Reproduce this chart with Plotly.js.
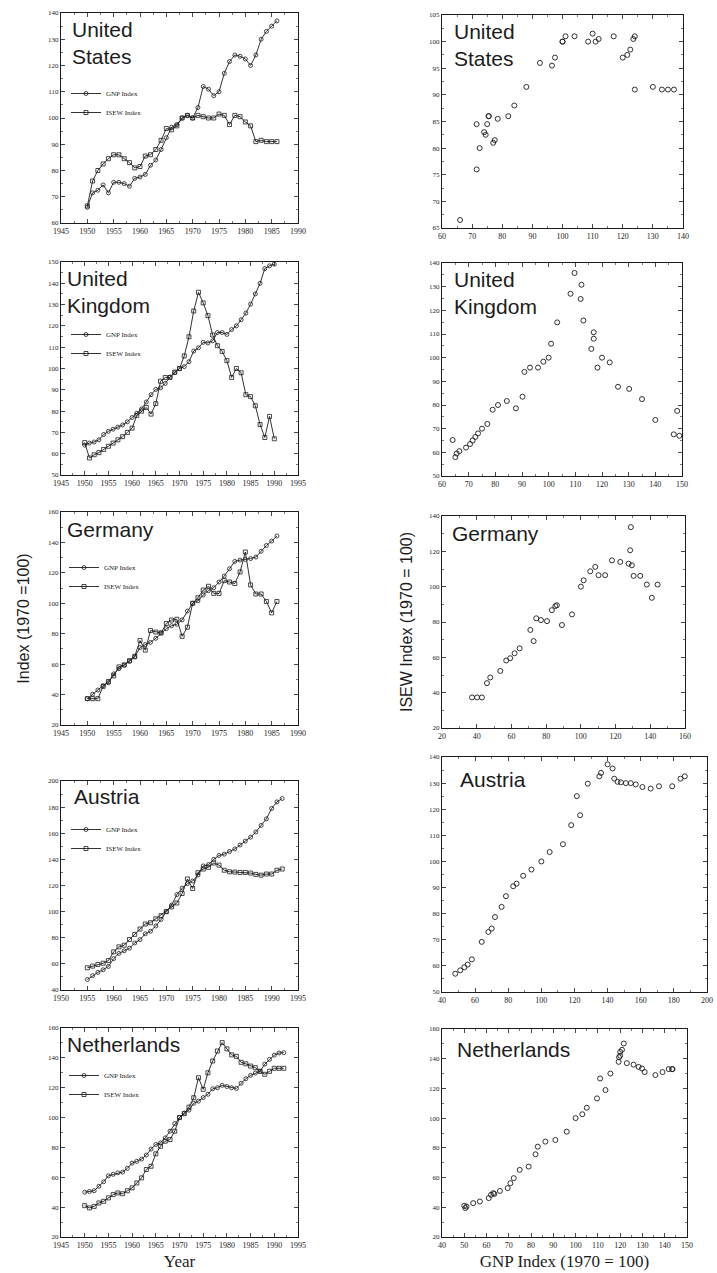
<!DOCTYPE html>
<html>
<head>
<meta charset="utf-8">
<script src="https://cdn.plot.ly/plotly-3.0.1.min.js"></script>
<style>html,body{margin:0;padding:0;background:#fff;}#chart{width:717px;height:1273px;}</style>
</head>
<body>
<div id="chart"></div>
<script>
// ---------------- DATA ----------------
const usYears = [1950,1951,1952,1953,1954,1955,1956,1957,1958,1959,1960,1961,1962,1963,1964,1965,1966,1967,1968,1969,1970,1971,1972,1973,1974,1975,1976,1977,1978,1979,1980,1981,1982,1983,1984,1985,1986];
const usGNP  = [66,71.5,72.5,74.5,71.5,75.5,75.5,75,74,77,77.5,78.5,82,84,88,92.5,96.5,97.5,100,101,100,104,112,111,108.5,110,117,121.5,124,123.5,122.5,120,124,130,133,135,137];
const usISEW = [66.5,76,80,82.5,84.5,86,86,84.5,83,81,81.5,85.5,86,88,91.5,96,95.5,97,100,101,100,101,100.5,100,100,101.5,101,97.5,101,100.5,98.5,97,91,91.5,91,91,91];

const ukYears = [1950,1951,1952,1953,1954,1955,1956,1957,1958,1959,1960,1961,1962,1963,1964,1965,1966,1967,1968,1969,1970,1971,1972,1973,1974,1975,1976,1977,1978,1979,1980,1981,1982,1983,1984,1985,1986,1987,1988,1989,1990];
const ukGNP  = [64,65,65.5,66.5,69,70.5,71.5,72.5,73.5,75,77,79,81,84.3,87.7,90.2,90.9,93,96,98,100,100.9,103.2,108.2,109.7,112.3,112,113,116.9,116.9,116,118.3,120,122.9,126,130.2,135,140,146.9,148.2,149];
const ukISEW = [65.2,58,59.5,60.5,62,63.5,65,66.5,68,70,72,78,80,81.7,78.6,83.5,94,95.8,95.8,98.3,100,105.9,114.9,127,135.8,130.8,124.8,115.7,110.7,108,103.7,95.8,100,98,87.7,86.8,82.5,73.7,67.6,77.5,67];

const deYears = [1950,1951,1952,1953,1954,1955,1956,1957,1958,1959,1960,1961,1962,1963,1964,1965,1966,1967,1968,1969,1970,1971,1972,1973,1974,1975,1976,1977,1978,1979,1980,1981,1982,1983,1984,1985,1986];
const deGNP  = [37.3,40.2,43,45.9,47.8,53.6,57,59.3,61.8,64.7,70.9,72.8,74.3,77,80.5,83.3,85.3,86.2,89.1,94.9,100,101.6,105.4,108.3,110.2,114,117.9,122.7,127.5,128.4,128.8,129.4,130.4,134.2,138,140.9,144.2];
const deISEW = [37.3,37.3,37.3,45.4,48.6,52.3,58.2,59.5,62.3,65.1,75.5,69.2,82.1,81.1,80.5,86.7,89,89.5,78.3,84.3,100,103.6,108.7,111.2,106.5,106.5,114.9,114,113,120.6,133.7,112.1,106.1,106.1,101.2,93.7,101.2];

const atYears = [1955,1956,1957,1958,1959,1960,1961,1962,1963,1964,1965,1966,1967,1968,1969,1970,1971,1972,1973,1974,1975,1976,1977,1978,1979,1980,1981,1982,1983,1984,1985,1986,1987,1988,1989,1990,1991,1992];
const atGNP  = [48,51,53.5,55.5,58,64,68,70,72,76,78.6,83,85,89,94,100,105,113,118,121.4,123.4,128,135,136,140,143,144,146,148,151,154,157,161,166,171,179,184,186.6];
const atISEW = [57,58.3,59.5,60.5,62.5,69.2,73,74.3,78.7,82.6,86.7,90.5,91.5,94.5,96.9,100,103.6,106.6,113.9,125,117.7,129.8,132.6,133.9,137.2,135.6,131.7,130.5,130.3,130,130,129.5,128.5,127.9,128.8,128.8,131.7,132.6];

const nlYears = [1950,1951,1952,1953,1954,1955,1956,1957,1958,1959,1960,1961,1962,1963,1964,1965,1966,1967,1968,1969,1970,1971,1972,1973,1974,1975,1976,1977,1978,1979,1980,1981,1982,1983,1984,1985,1986,1987,1988,1989,1990,1991,1992];
const nlGNP  = [50,50.5,51,54,57,61,62,63,63.5,66,69.5,70.7,72.2,74.9,78.9,82,83,86.4,90.9,96,100,103,105,109.6,111,113.4,115.6,119.3,120,121.6,120.8,120,119.5,123,126,128.3,129.8,131,135.8,139,141.8,143.3,143.5];
const nlISEW = [41,39.5,40.5,42.8,43.9,46.2,48.4,49.5,49,51,52.9,56.2,59.6,65.2,67.4,75.7,80.8,84.2,85.3,90.9,100,102.6,107,113.3,126.7,118.9,130,137.9,144.6,150.2,146,142,141,137,136,134.5,133.4,131,129,131,133,133,133];

const countries = [
  {name:'United<br>States',  years:usYears, gnp:usGNP, isew:usISEW},
  {name:'United<br>Kingdom', years:ukYears, gnp:ukGNP, isew:ukISEW},
  {name:'Germany',           years:deYears, gnp:deGNP, isew:deISEW},
  {name:'Austria',           years:atYears, gnp:atGNP, isew:atISEW},
  {name:'Netherlands',       years:nlYears, gnp:nlGNP, isew:nlISEW}
];

// axis ranges and tick steps
const leftXRange  = [[1945,1990],[1945,1995],[1945,1990],[1950,1995],[1945,1995]];
const leftYRange  = [[60,140],[50,150],[20,160],[40,200],[20,160]];
const leftYStep   = [10,10,20,20,20];
const rightXRange = [[60,140],[60,150],[20,160],[40,200],[40,150]];
const rightXStep  = [10,10,20,20,10];
const rightYRange = [[65,105],[50,140],[20,140],[50,140],[20,160]];
const rightYStep  = [5,10,20,10,20];

// ---------------- LAYOUT (pixel boxes) ----------------
const W = 717, H = 1273;
const leftBoxes  = [[61,298,13,223],[61,298,262,475],[61,298,512,725],[61,298,781,990],[61,298,1028,1237]];
const rightBoxes = [[442,683,15,228],[442,682,263,476],[442,685,516,728],[442,707,757,992],[442,687,1029,1237]];
const leftTitlePos  = [[70,23],[65,272],[65,523],[72,790],[65,1038]];
const rightTitlePos = [[452,25],[452,273],[450,527],[458,773],[455,1043]];
const legendTop  = [79,320,553,815,1061];
const legendLeft = [66,66,64,66,64];

const ink = '#1c1c1c';
const tickFontX = {family:'Liberation Serif', size:8, color:ink};
const tickFontY = {family:'Liberation Serif', size:7, color:ink};

function dom(b){ return {x:[b[0]/W, b[1]/W], y:[1-b[3]/H, 1-b[2]/H]}; }
function axis(domain, range, step, anchor, font){
  return {domain:domain, range:range, dtick:step, tick0:range[0], anchor:anchor,
    showline:true, linecolor:ink, linewidth:1, mirror:'ticks', ticks:'inside',
    ticklen:4, tickwidth:0.8, tickcolor:ink, showgrid:false, zeroline:false,
    tickfont:font, tickangle:0, fixedrange:true,
    minor:{ticks:'inside', ticklen:2, tickwidth:0.6, tickcolor:ink, dtick:step/2, showgrid:false}};
}

const data = [];
const layout = {width:W, height:H, margin:{l:0,r:0,t:0,b:0}, paper_bgcolor:'#fff', plot_bgcolor:'#fff',
  showlegend:true, annotations:[], font:{family:'Liberation Sans', color:ink}};

countries.forEach((c,i)=>{
  const li = 2*i+1, ri = 2*i+2;
  const lx = 'x'+(li===1?'':li), ly = 'y'+(li===1?'':li);
  const rx = 'x'+ri, ry = 'y'+ri;
  const lg = i===0 ? 'legend' : 'legend'+(i+1);
  const ld = dom(leftBoxes[i]), rd = dom(rightBoxes[i]);
  layout['xaxis'+(li===1?'':li)] = axis(ld.x, leftXRange[i], 5, ly, tickFontX);
  layout['yaxis'+(li===1?'':li)] = axis(ld.y, leftYRange[i], leftYStep[i], lx, tickFontY);
  layout['xaxis'+ri] = axis(rd.x, rightXRange[i], rightXStep[i], ry, tickFontX);
  layout['yaxis'+ri] = axis(rd.y, rightYRange[i], rightYStep[i], rx, tickFontY);

  data.push({x:c.years, y:c.gnp, xaxis:lx, yaxis:ly, type:'scatter', mode:'lines+markers', name:'GNP Index',
    legend:lg, line:{color:ink, width:0.9}, marker:{symbol:'circle-open', size:4, color:ink, line:{width:0.8, color:ink}}});
  data.push({x:c.years, y:c.isew, xaxis:lx, yaxis:ly, type:'scatter', mode:'lines+markers', name:'ISEW Index',
    legend:lg, line:{color:ink, width:0.9}, marker:{symbol:'square-open', size:4, color:ink, line:{width:0.8, color:ink}}});
  data.push({x:c.gnp, y:c.isew, xaxis:rx, yaxis:ry, type:'scatter', mode:'markers', showlegend:false,
    marker:{symbol:'circle-open', size:5, color:ink, line:{width:0.9, color:ink}}});

  layout[lg] = {x:legendLeft[i]/W, y:1-legendTop[i]/H, xanchor:'left', yanchor:'top', bgcolor:'rgba(0,0,0,0)',
    font:{family:'Liberation Serif', size:7, color:ink}, itemwidth:30, tracegroupgap:0};

  [leftTitlePos[i], rightTitlePos[i]].forEach(pos=>{
    layout.annotations.push({xref:'paper', yref:'paper', x:pos[0]/W, y:1-(pos[1]-7)/H, xanchor:'left', yanchor:'top',
      align:'left', text:c.name, showarrow:false, font:{family:'Liberation Sans', size:21, color:ink}});
  });
});

// axis titles
layout.xaxis9.title = {text:'Year', font:{family:'Liberation Serif', size:17, color:ink}, standoff:6};
layout.xaxis10.title = {text:'GNP Index (1970 = 100)', font:{family:'Liberation Serif', size:17, color:ink}, standoff:6};
layout.yaxis5.title = {text:'Index (1970 =100)', font:{family:'Liberation Sans', size:16, color:ink}, standoff:14};
layout.yaxis6.title = {text:'ISEW Index (1970 = 100)', font:{family:'Liberation Sans', size:16, color:ink}, standoff:12};

Plotly.newPlot('chart', data, layout, {staticPlot:true, displayModeBar:false});
</script>
</body>
</html>
